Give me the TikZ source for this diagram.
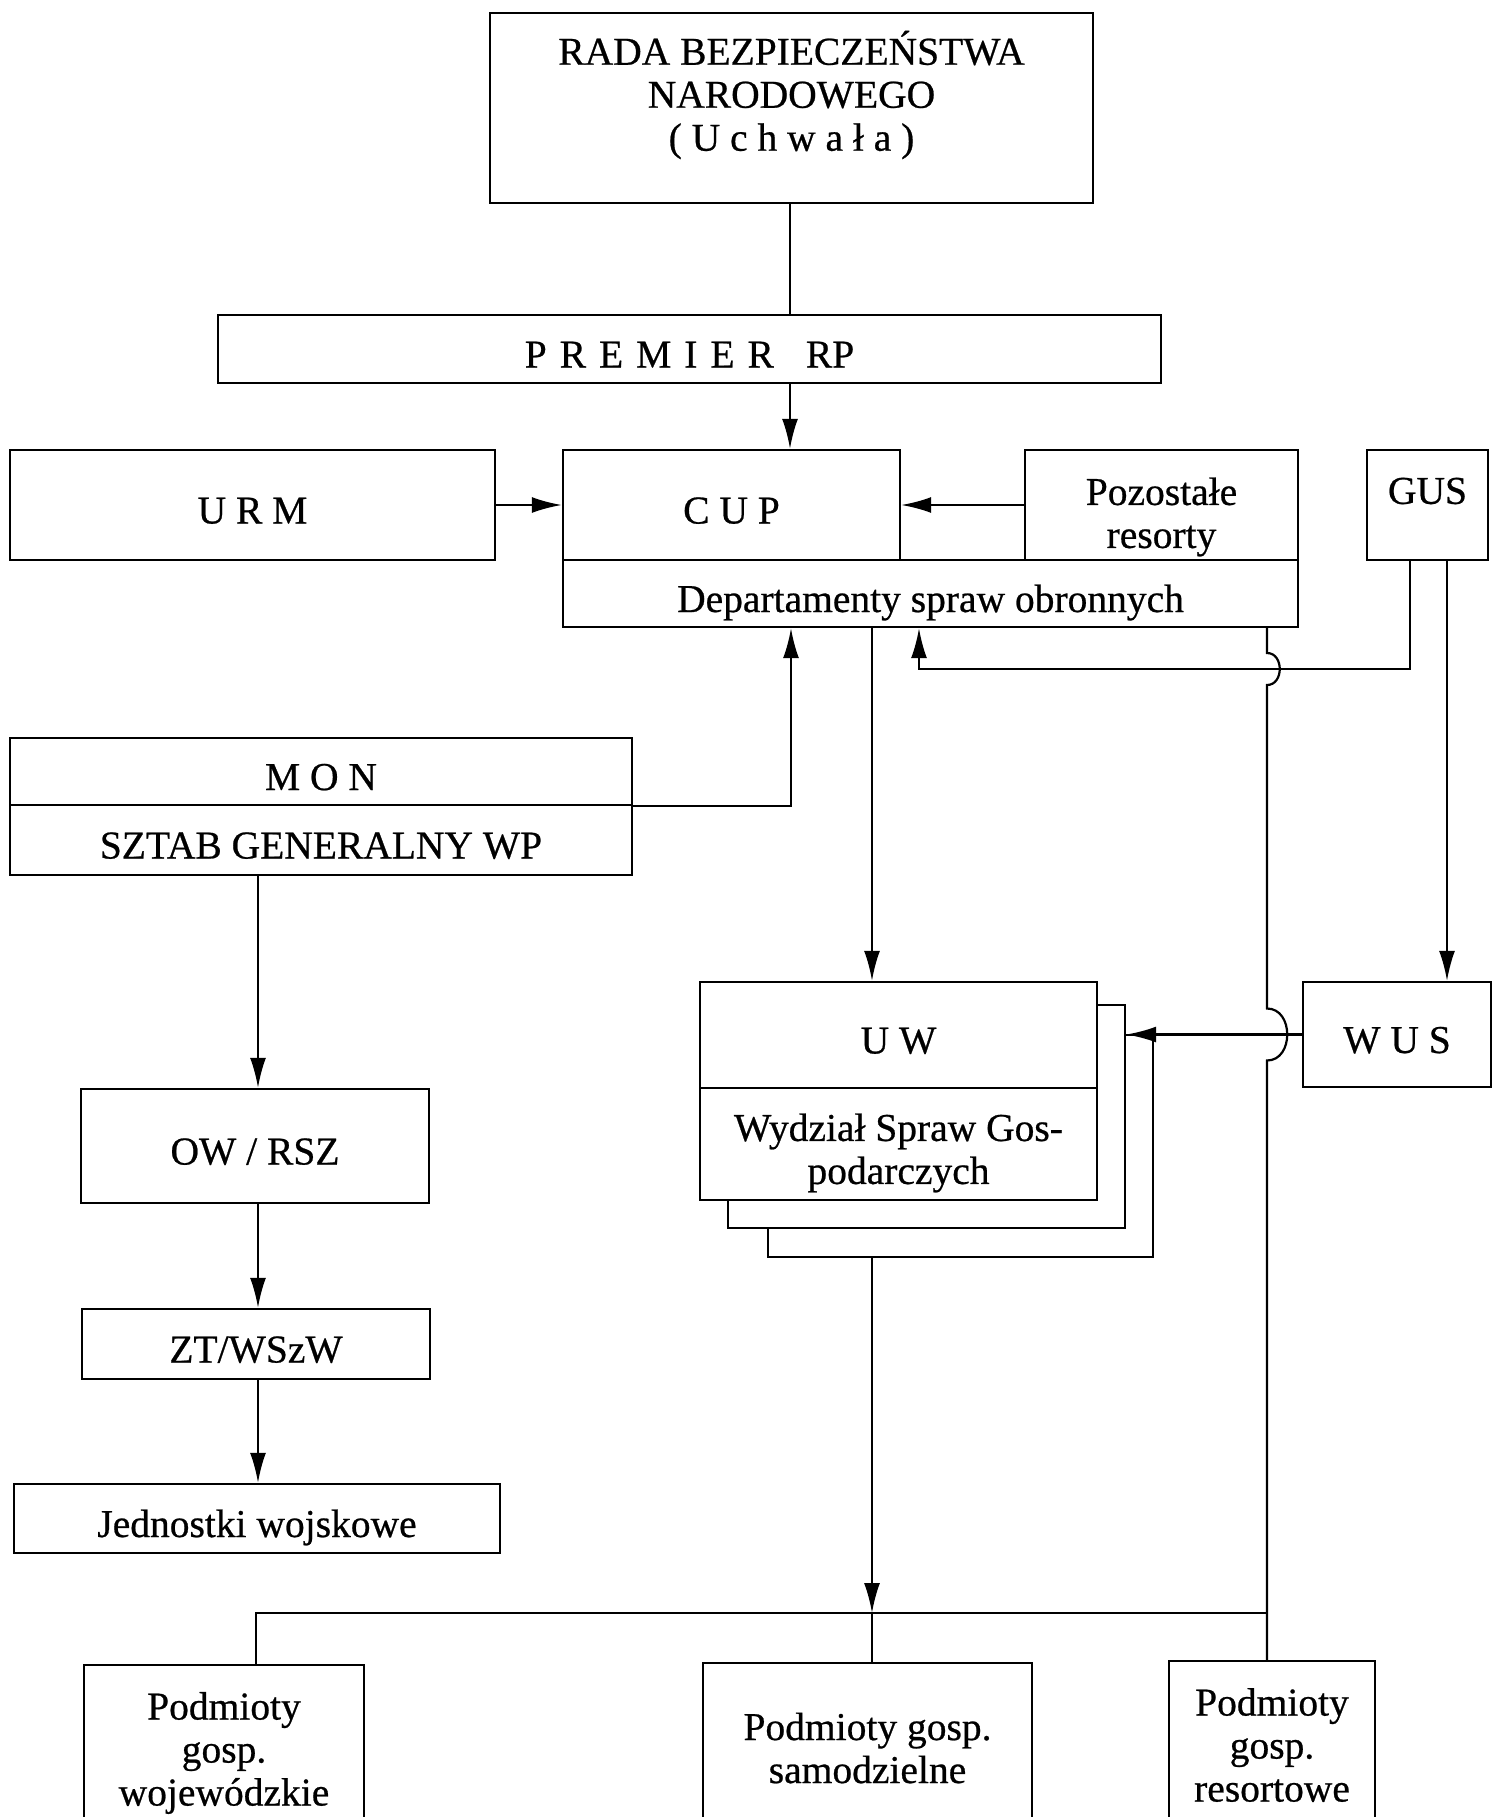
\documentclass[tikz,border=0pt]{standalone}
\usepackage{fontspec}
\setmainfont{Liberation Serif}[FakeBold=0.6]
\usetikzlibrary{arrows.meta,calc}
\tikzset{
  box/.style={draw, line width=2.4pt, fill=white, inner sep=0pt, align=center,
    font=\fontsize{39.5}{43}\selectfont},
  one/.style={text height=37pt, text depth=0pt},
  txt/.style={inner sep=0pt, align=center, font=\fontsize{39.5}{43}\selectfont},
  conn/.style={line width=2.2pt},
  arr/.style={line width=2.2pt, -{Latex[length=30pt,width=16pt]}},
}
\begin{document}
\begin{tikzpicture}[x=1pt,y=-1pt]
\useasboundingbox (0,0) rectangle (1501,1817);
\clip (0,0) rectangle (1501,1817);
\fill[white] (0,0) rectangle (1501,1817);

% boxes
\node[box, minimum width=603, minimum height=190] (rada) at (791.5,108) {};
\node[txt] (radat) at (791.5,95) {RADA BEZPIECZEŃSTWA\\NARODOWEGO\\( U c h w a ł a )};
\node[box, one, minimum width=943, minimum height=68] (premier) at (689.5,349)
  {P\hspace{13pt}R\hspace{13pt}E\hspace{13pt}M\hspace{13pt}I\hspace{13pt}E\hspace{13pt}R\hspace{32pt}RP};
\node[box, one, minimum width=485, minimum height=110] (urm) at (252.5,505) {U R M};
\node[box, one, minimum width=337, minimum height=110] (cup) at (731.5,505) {C U P};
\node[box, minimum width=273, minimum height=110] (poz) at (1161.5,505) {};
\node[txt] (pozt) at (1161.5,517) {Pozostałe\\resorty};
\node[box, one, minimum width=735, minimum height=67] (dept) at (930.5,593.5) {Departamenty spraw obronnych};
\node[box, minimum width=121, minimum height=110] (gus) at (1427.5,505) {};
\node[txt] (gust) at (1427.5,491) {GUS};

\node[box, one, minimum width=622, minimum height=67] (mon) at (321,771.5) {M O N};
\node[box, one, minimum width=622, minimum height=70] (sztab) at (321,840) {SZTAB GENERALNY WP};

\node[box, one, minimum width=348, minimum height=114] (ow) at (255,1146) {OW / RSZ};
\node[box, one, minimum width=348, minimum height=70] (zt) at (256,1344) {ZT/WSzW};
\node[box, one, minimum width=486, minimum height=69] (jed) at (257,1518.5) {Jednostki wojskowe};

\node[box, minimum width=385, minimum height=222] (uw3) at (960.5,1146) {};
\node[box, minimum width=397, minimum height=223] (uw2) at (926.5,1116.5) {};
\node[box, one, minimum width=397, minimum height=106] (uw) at (898.5,1035) {U W};
\node[box, minimum width=397, minimum height=112] (wsg) at (898.5,1144) {};
\node[txt] (wsgt) at (898.5,1153) {Wydział Spraw Gos-\\podarczych};

\node[box, one, minimum width=188, minimum height=105] (wus) at (1397,1034.5) {W U S};

\node[box, minimum width=280, minimum height=170] (woj) at (224,1750) {};
\node[txt] (wojt) at (224,1753) {Podmioty\\gosp.\\wojewódzkie};
\node[box, minimum width=329, minimum height=170] (sam) at (867.5,1748) {Podmioty gosp.\\samodzielne};
\node[box, minimum width=206, minimum height=168] (res) at (1272,1745) {Podmioty\\gosp.\\resortowe};

% helper coordinates
\coordinate (xP) at (790,0);
\coordinate (xA) at (791,0);
\coordinate (xB) at (919,0);
\coordinate (xC) at (872,0);
\coordinate (xD) at (1267,0);
\coordinate (xE) at (256,0);
\coordinate (xF) at (258,0);
\coordinate (g1) at (1410,669);
\coordinate (g2) at (1447,0);
\coordinate (hy) at (0,1613);

% connectors
\draw[conn] (xP |- rada.south) -- (xP |- premier.north);
\draw[arr] (xP |- premier.south) -- (xP |- cup.north);
\draw[arr] (urm.east) -- (cup.west);
\draw[arr] (poz.west) -- (cup.east);
\draw[arr] (mon.south east) -| (xA |- dept.south);
\draw[arr] (gus.south -| g1) |- (xB |- g1) -- (xB |- dept.south);
\draw[arr] (gus.south -| g2) -- (g2 |- wus.north);
\draw[arr] (xC |- dept.south) -- (xC |- uw.north);
\draw[arr] (wus.west) -- (uw2.east |- wus.west);
\draw[conn] (xD |- dept.south) -- ($(xD |- g1)+(0,-16)$)
  .. controls +(17,0) and +(17,0) .. ($(xD |- g1)+(0,16)$)
  -- ($(xD |- wus.west)+(0,-26)$)
  .. controls +(27,0) and +(27,0) .. ($(xD |- wus.west)+(0,26)$)
  -- (xD |- res.north);
\draw[arr] (xF |- sztab.south) -- (xF |- ow.north);
\draw[arr] (xF |- ow.south) -- (xF |- zt.north);
\draw[arr] (xF |- zt.south) -- (xF |- jed.north);
\draw[arr] (xC |- uw3.south) -- (xC |- hy);
\draw[conn] (xC |- hy) -- (xC |- sam.north);
\draw[conn] (xE |- woj.north) -- (xE |- hy) -- (xD |- hy);
\end{tikzpicture}
\end{document}
